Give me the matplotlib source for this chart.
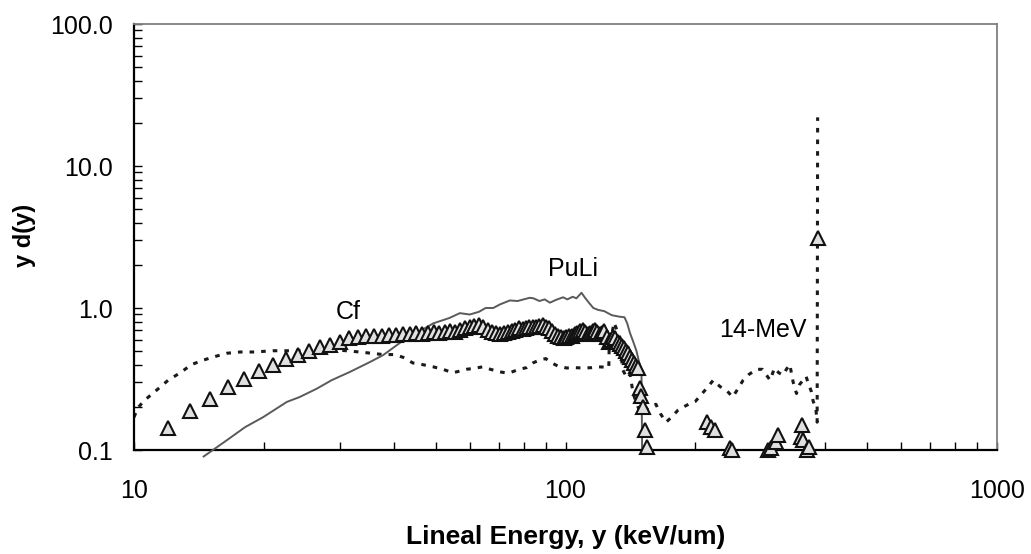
import matplotlib
matplotlib.use("Agg")
import matplotlib.pyplot as plt
from matplotlib.ticker import FixedLocator, FixedFormatter, NullFormatter

# ---- data ----
# Cf (triangles)
cf_x = [12.0, 13.5, 15.0, 16.5, 18.0, 19.5, 21.0, 22.5, 24.0, 25.5, 27.0, 28.5, 30.0,
        31.5, 33.0, 34.5, 36.0, 37.5, 39.0, 40.5, 42.0, 43.5, 45.0, 46.5, 48.0, 49.5,
        51.0, 52.5, 54.0, 55.5, 57.0, 58.5, 60.0, 61.5, 63.0, 64.5, 66.0, 67.5, 69.0,
        70.5, 72.0, 73.5, 75.0, 76.5, 78.0, 79.5, 81.0, 82.5, 84.0, 85.5, 87.0, 88.5,
        90.0, 91.5, 93.0, 94.5, 96.0, 97.5, 99.0, 100.5, 102.0, 103.5, 105.0, 106.5,
        108.0, 109.5, 111.0, 112.5, 114.0, 115.5, 117.0, 118.5, 120.0, 121.5, 123.0,
        124.5, 126.0, 127.5, 129.0, 130.5, 132.0, 133.5, 135.0, 136.5, 138.0, 139.5,
        141.0, 142.5, 144.0, 145.5, 147.0, 148.5, 150.0, 151.5, 153.0, 154.5,
        213.0, 217.5, 222.0, 240.0, 243.0, 294.0, 300.0, 307.5, 310.5,
        351.0, 354.0, 355.5, 363.0, 366.0, 385.5]
cf_y = [0.143, 0.188, 0.229, 0.278, 0.316, 0.36, 0.397, 0.437, 0.467, 0.50, 0.53, 0.55, 0.58,
        0.61, 0.62, 0.63, 0.64, 0.64, 0.65, 0.65, 0.66, 0.66, 0.67, 0.66, 0.67, 0.68,
        0.67, 0.68, 0.69, 0.68, 0.70, 0.72, 0.74, 0.75, 0.76, 0.74, 0.70, 0.68, 0.67,
        0.66, 0.67, 0.68, 0.69, 0.70, 0.72, 0.71, 0.72, 0.73, 0.74, 0.73, 0.75, 0.76,
        0.74, 0.72, 0.69, 0.66, 0.63, 0.62, 0.61, 0.62, 0.63, 0.64, 0.66, 0.67,
        0.69, 0.70, 0.68, 0.66, 0.67, 0.69, 0.70, 0.68, 0.66, 0.67, 0.69,
        0.62, 0.58, 0.60, 0.62, 0.61, 0.58, 0.56, 0.54, 0.52, 0.50, 0.48,
        0.45, 0.43, 0.41, 0.39, 0.378, 0.275, 0.24, 0.20, 0.138, 0.105,
        0.157, 0.145, 0.138, 0.103, 0.100, 0.100, 0.103, 0.114, 0.127,
        0.123, 0.150, 0.117, 0.100, 0.105, 3.1]

# PuLi (solid grey line)
puli_x = [14.5, 16.4, 18.1, 19.9, 22.6, 24.2, 26.5, 28.7, 31.6, 35.2, 37.8, 41.4, 45.3,
          49.4, 53.8, 56.9, 60.0, 63.0, 65.3, 68.0, 70.5, 74.3, 77.4, 80.0, 82.6, 84.3,
          87.0, 89.5, 92.0, 95.0, 98.7, 101.0, 103.9, 106.0, 108.9, 111.0, 113.3, 116.0,
          119.0, 123.0, 128.0, 133.0, 137.0, 139.0, 141.0, 143.5, 146.0, 148.0, 150.0, 150.5]
puli_y = [0.09, 0.117, 0.145, 0.17, 0.218, 0.236, 0.27, 0.31, 0.354, 0.416, 0.466, 0.57, 0.67,
          0.78, 0.85, 0.92, 0.90, 0.94, 1.0, 1.0, 1.06, 1.13, 1.12, 1.15, 1.18, 1.17,
          1.12, 1.15, 1.09, 1.14, 1.19, 1.15, 1.20, 1.17, 1.28, 1.18, 1.09, 1.0,
          0.97, 0.95, 0.89, 0.87, 0.86, 0.78, 0.67, 0.58, 0.50, 0.42, 0.37, 0.10]

# 14-MeV (dotted/dashed dark line)
mev_x = [10.0, 10.2, 10.6, 11.3, 12.0, 12.8, 13.6, 14.5, 15.2, 16.4, 17.6, 19.0, 21.0, 23.0,
         25.0, 27.0, 29.0, 31.0, 33.3, 35.5, 37.8, 40.0, 42.0, 44.3, 46.5, 49.4, 52.0,
         54.8, 57.0, 58.9, 61.0, 64.3, 67.0, 70.5, 72.5, 74.3, 78.0, 81.2, 84.0, 87.0,
         90.0, 93.0, 96.0, 100.6, 105.0, 110.0, 115.0, 119.0, 122.0, 126.0, 126.2, 129.5,
         133.7, 135.5, 139.0, 141.3, 143.4, 146.5, 148.7, 151.0, 156.0, 162.0, 166.0, 171.0,
         176.0, 182.0, 187.0, 193.0, 200.0, 205.0, 212.0, 220.0, 228.0, 237.0, 244.0, 251.0,
         258.0, 266.0, 277.0, 286.0, 298.0, 305.0, 312.0, 319.0, 325.0, 331.0, 337.0, 343.0,
         349.0, 355.0, 361.0, 366.0, 371.0, 375.0, 380.0, 383.0, 384.0]
mev_y = [0.17, 0.198, 0.225, 0.265, 0.31, 0.35, 0.40, 0.43, 0.45, 0.48, 0.49, 0.49, 0.50, 0.50,
         0.50, 0.50, 0.51, 0.50, 0.49, 0.48, 0.47, 0.47, 0.45, 0.41, 0.40, 0.385, 0.37,
         0.35, 0.36, 0.37, 0.375, 0.385, 0.37, 0.355, 0.35, 0.35, 0.37, 0.38, 0.41, 0.43,
         0.44, 0.41, 0.39, 0.378, 0.38, 0.378, 0.38, 0.385, 0.384, 0.38, 0.50, 0.79,
         0.62, 0.37, 0.32, 0.34, 0.25, 0.21, 0.185, 0.185, 0.20, 0.21, 0.18, 0.157,
         0.17, 0.19, 0.20, 0.21, 0.22, 0.24, 0.27, 0.31, 0.28, 0.26, 0.236, 0.27,
         0.31, 0.34, 0.37, 0.37, 0.31, 0.378, 0.35, 0.337, 0.37, 0.40, 0.30, 0.25,
         0.29, 0.31, 0.33, 0.29, 0.26, 0.22, 0.20, 0.157, 22.0]

x_ticks = [10, 100, 1000]
x_labels = ["10", "100", "1000"]
y_ticks = [0.1, 1.0, 10.0, 100.0]
y_labels = ["0.1", "1.0", "10.0", "100.0"]

annotations = [("Cf", 31.3, 0.93), ("PuLi", 104.0, 1.88), ("14-MeV", 286.0, 0.70)]

# ---- figure ----
plt.rcParams['font.family'] = ['Liberation Sans', 'DejaVu Sans']
W, H = 1031, 554
fig = plt.figure(figsize=(W / 100, H / 100), dpi=100)
ax = fig.add_axes([134 / W, 1 - 450 / H, (997 - 134) / W, (450 - 24) / H])
ax.set_xscale('log')
ax.set_yscale('log')
ax.set_xlim(10, 1000)
ax.set_ylim(0.1, 100)

ax.plot(mev_x, mev_y, color='#1a1a1a', lw=2.2, linestyle=(0, (1.5, 2.3)), zorder=2)
ax.plot(puli_x, puli_y, color='#5a5a5a', lw=1.4, zorder=3, clip_on=False)
ax.plot(cf_x, cf_y, linestyle='none', marker='^', markersize=10.5, markerfacecolor='#e0e0e0',
        markeredgecolor='#111111', markeredgewidth=1.5, zorder=4, clip_on=False)

for txt, xv, yv in annotations:
    ax.text(xv, yv, txt, fontsize=18, ha='center', va='center', color='black')

# spines
for s in ['left', 'bottom']:
    ax.spines[s].set_color('black')
    ax.spines[s].set_linewidth(1.6)
for s in ['top', 'right']:
    ax.spines[s].set_color('#808080')
    ax.spines[s].set_linewidth(1.3)

ax.xaxis.set_major_locator(FixedLocator(x_ticks))
ax.xaxis.set_major_formatter(FixedFormatter(x_labels))
ax.yaxis.set_major_locator(FixedLocator(y_ticks))
ax.yaxis.set_major_formatter(FixedFormatter(y_labels))
ax.xaxis.set_minor_formatter(NullFormatter())
ax.yaxis.set_minor_formatter(NullFormatter())

ax.tick_params(axis='both', which='both', direction='in', length=6, width=1.0,
               color='black', top=False, right=False, labelsize=18)
ax.tick_params(axis='x', which='major', pad=21)
ax.tick_params(axis='y', which='major', pad=15)

ax.set_xlabel('Lineal Energy, y (keV/um)', fontsize=19, fontweight='bold',
              va='center')
ax.xaxis.set_label_coords(0.5, -(537 - 450) / 426)
ax.set_ylabel('y d(y)', fontsize=17, fontweight='bold', va='center')
ax.yaxis.set_label_coords((25 - 134) / 863, (450 - 235) / 426)

fig.savefig('out.png', dpi=100)
